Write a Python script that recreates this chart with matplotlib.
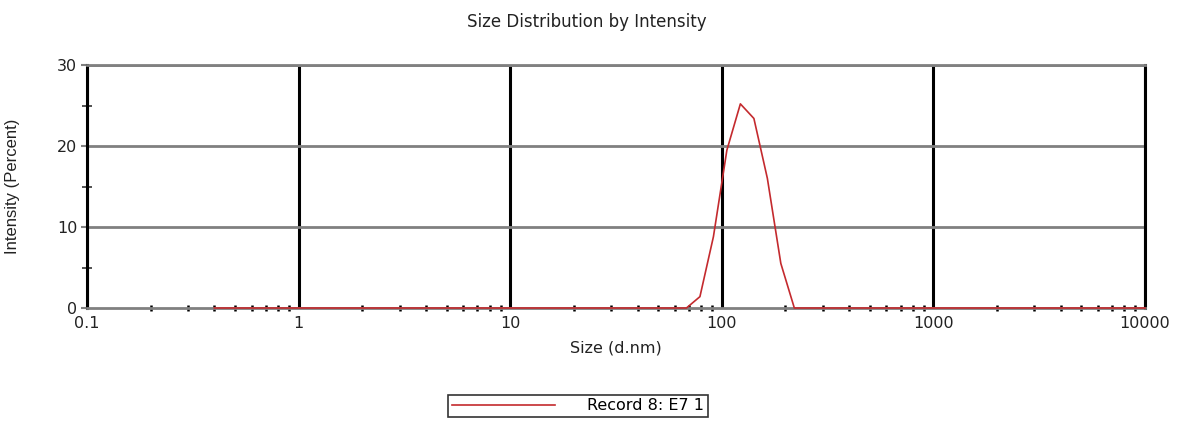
import matplotlib
matplotlib.use("Agg")
import matplotlib.pyplot as plt
from matplotlib.ticker import FixedLocator, FixedFormatter

# Size bins (d.nm) and intensity (%)
sizes = [0.4, 0.4632, 0.5365, 0.6213, 0.7195, 0.8332, 0.9649, 1.117, 1.294, 1.499,
         1.736, 2.010, 2.328, 2.696, 3.122, 3.615, 4.187, 4.849, 5.615, 6.503,
         7.531, 8.721, 10.10, 11.70, 13.54, 15.69, 18.17, 21.04, 24.36, 28.21,
         32.67, 37.84, 43.82, 50.75, 58.77, 68.06, 78.82, 91.28, 105.7, 122.4,
         141.8, 164.2, 190.1, 220.2, 255.0, 295.3, 342.0, 396.1, 458.7, 531.2,
         615.1, 712.4, 825.0, 955.4, 1106, 1281, 1484, 1718, 1990, 2305,
         2669, 3091, 3580, 4145, 4801, 5560, 6439, 7456, 8635, 10000]
intensity = [0] * 35 + [0.0, 1.4, 8.8, 19.5, 25.2, 23.4, 16.0, 5.5, 0.0] + [0] * 26

x_ticks = [0.1, 1, 10, 100, 1000, 10000]
x_tick_labels = ["0.1", "1", "10", "100", "1000", "10000"]
x_minor = [m * d for d in [0.1, 1, 10, 100, 1000] for m in range(2, 10)]
y_ticks = [0, 10, 20, 30]
y_tick_labels = ["0", "10", "20", "30"]
y_minor = [5, 15, 25]

title = "Size Distribution by Intensity"
xlabel = "Size (d.nm)"
ylabel = "Intensity (Percent)"
series_label = "Record 8: E7 1"

plt.rcParams['font.family'] = ['DejaVu Sans']

W, H = 1190, 421
fig = plt.figure(figsize=(W / 100, H / 100), dpi=100)
ax = fig.add_axes([87 / W, 1 - 308 / H, (1145 - 87) / W, (308 - 65) / H])

ax.set_xscale('log')
ax.set_xlim(0.1, 10000)
ax.set_ylim(0, 30)

# grid lines
for v in x_ticks:
    ax.axvline(v, color='black', lw=2.2, zorder=1)
for v in y_ticks[1:]:
    ax.axhline(v, color='#808080', lw=2.0, zorder=1)

for s in ['left', 'right']:
    ax.spines[s].set_color('black')
    ax.spines[s].set_linewidth(2.2)
for s in ['top', 'bottom']:
    ax.spines[s].set_color('#808080')
    ax.spines[s].set_linewidth(2.0)

ax.plot(sizes, intensity, color='#c42a2e', lw=1.2, zorder=4, clip_on=False,
        label=series_label)

ax.xaxis.set_major_locator(FixedLocator(x_ticks))
ax.xaxis.set_major_formatter(FixedFormatter(x_tick_labels))
ax.xaxis.set_minor_locator(FixedLocator(x_minor))
ax.xaxis.set_minor_formatter(FixedFormatter([""] * len(x_minor)))
ax.yaxis.set_major_locator(FixedLocator(y_ticks))
ax.yaxis.set_major_formatter(FixedFormatter(y_tick_labels))
ax.yaxis.set_minor_locator(FixedLocator(y_minor))

ax.tick_params(axis='x', which='major', length=0, pad=6, labelsize=11.5, labelcolor='#222222')
ax.tick_params(axis='x', which='minor', direction='inout', length=4, width=1.8, color='black')
ax.tick_params(axis='y', which='major', direction='out', length=4, width=1.5, color='#808080',
               pad=3, labelsize=11.5, labelcolor='#222222')
ax.tick_params(axis='y', which='minor', direction='inout', length=7, width=1.2, color='#333333')

ax.set_xlabel(xlabel, fontsize=11.5, color='#222222')
ax.xaxis.set_label_coords(0.5, -0.135)
ax.set_ylabel(ylabel, fontsize=12, color='#222222',
              family=['Liberation Sans Narrow', 'Liberation Sans'])
ax.yaxis.set_label_coords(-0.063, 0.5)

fig.text(587 / W, 1 - 22 / H, title, ha='center', va='center', fontsize=12, color='#222222')

leg = fig.legend(loc='center', bbox_to_anchor=(578 / W, 1 - 406 / H), fontsize=11.5,
                 handlelength=6.5, handletextpad=2.0, frameon=True, fancybox=False,
                 borderpad=0.2, borderaxespad=0)
leg.get_frame().set_edgecolor('black')
leg.get_frame().set_linewidth(1.2)

fig.savefig('out.png', dpi=100)
